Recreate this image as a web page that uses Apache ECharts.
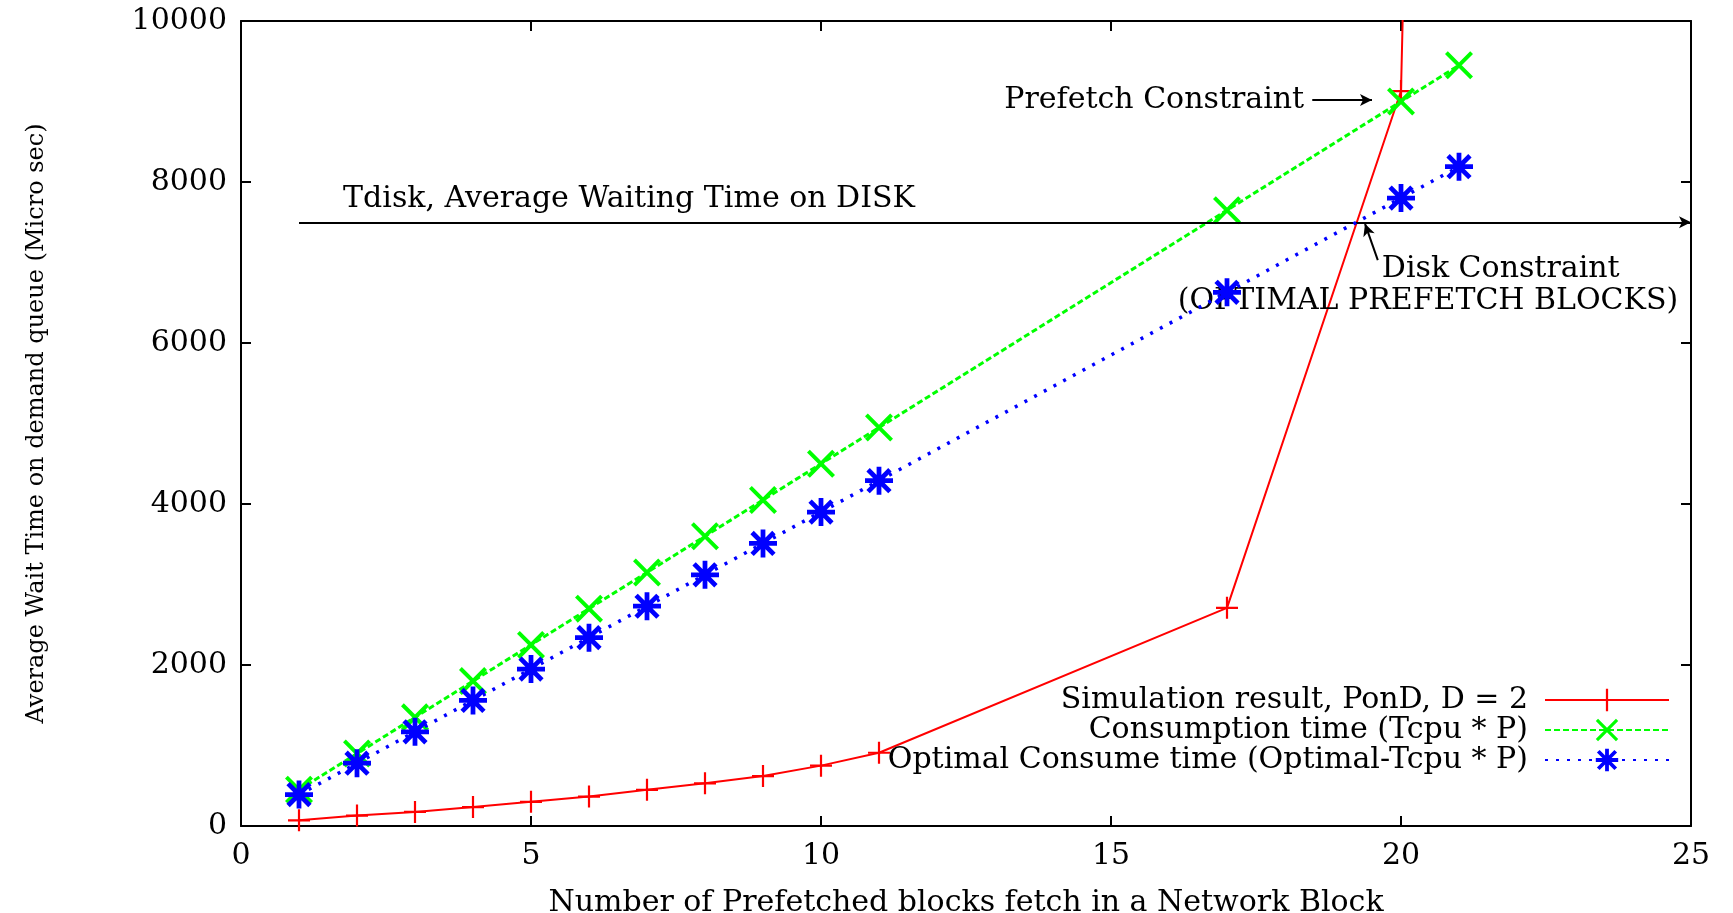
<!DOCTYPE html>
<html>
<head>
<meta charset="utf-8">
<script src="https://cdn.jsdelivr.net/npm/echarts@6/dist/echarts.min.js"></script>
<style>
html, body { margin: 0; padding: 0; background: #fff; }
#main { width: 1733px; height: 913px; }
</style>
</head>
<body>
<div id="main"></div>
<script>
// prefetched blocks per network block
var blocks = [1, 2, 3, 4, 5, 6, 7, 8, 9, 10, 11, 17, 20, 21];
// simulation result, PonD, D = 2 (last point runs off the top)
var simulation = [70, 130, 175, 235, 300, 365, 450, 530, 620, 750, 910, 2710, 9130, 40000];
// consumption time (Tcpu * P)
var consumption = [450, 900, 1350, 1800, 2250, 2700, 3150, 3600, 4050, 4500, 4950, 7650, 9000, 9450];
// optimal consume time (Optimal-Tcpu * P)
var optimal = [390, 780, 1170, 1560, 1950, 2340, 2730, 3120, 3510, 3900, 4290, 6630, 7800, 8190];

var seriesNames = [
    'Simulation result, PonD, D = 2',
    'Consumption time (Tcpu * P)',
    'Optimal Consume time (Optimal-Tcpu * P)'
];

var tdisk = 7500;
var xTicks = [0, 25, 5];      // min, max, step
var yTicks = [0, 10000, 2000];

// labels placed in data coordinates
var notes = [
    { text: 'Tdisk, Average Waiting Time on DISK', x: 1.76, y: 7790, align: 'left' },
    { text: 'Prefetch Constraint', x: 18.33, y: 9010, align: 'right' },
    { text: 'Disk Constraint', x: 19.67, y: 6920, align: 'left' },
    { text: '(OPTIMAL PREFETCH BLOCKS)', x: 24.78, y: 6520, align: 'right' }
];
// arrows [from, to]
var arrows = [
    [[1, tdisk], [25, tdisk]],
    [[18.47, 9020], [19.5, 9020]],
    [[19.6, 7030], [19.38, 7480]]
];

var FONT = 'DejaVu Serif';
var FS = 30;

function pairs(ys) {
    return blocks.map(function (b, i) { return [b, ys[i]]; });
}

var plusSym = 'path://M9,0H11V20H9ZM0,9H20V11H0Z';
var crossSym = 'path://M0,2L2,0L20,18L18,20ZM18,0L20,2L2,20L0,18Z';
var starSym = 'path://M8.3,0H11.7V20H8.3ZM0,8.3H20V11.7H0ZM1,3.4L3.4,1L19,16.6L16.6,19ZM16.6,1L19,3.4L3.4,19L1,16.6Z';

var axisCommon = {
    type: 'value',
    splitLine: { show: false },
    axisLine: { show: true, onZero: false, lineStyle: { color: '#000', width: 2 } },
    axisTick: { show: true, inside: true, length: 10, lineStyle: { color: '#000', width: 2 } }
};

var myChart = echarts.init(document.getElementById('main'));

var option = {
    animation: false,
    backgroundColor: '#fff',
    grid: { left: 241, right: 42, top: 21, bottom: 87, containLabel: false, outerBoundsMode: 'none' },
    legend: {
        data: seriesNames,
        orient: 'vertical',
        right: 58,
        top: 680,
        align: 'right',
        itemWidth: 124,
        itemHeight: 28,
        itemGap: 0,
        textStyle: { fontFamily: FONT, fontSize: FS, lineHeight: 28, color: '#000', padding: [0, 12, 0, 0] }
    },
    xAxis: [
        Object.assign({}, axisCommon, {
            position: 'bottom',
            min: xTicks[0], max: xTicks[1], interval: xTicks[2],
            name: 'Number of Prefetched blocks fetch in a Network Block',
            nameLocation: 'middle',
            nameGap: 62,
            nameTextStyle: { fontFamily: FONT, fontSize: FS, color: '#000' },
            axisLabel: { fontFamily: FONT, fontSize: FS, color: '#000', margin: 15 }
        }),
        Object.assign({}, axisCommon, {
            position: 'top',
            min: xTicks[0], max: xTicks[1], interval: xTicks[2],
            axisLabel: { show: false }
        })
    ],
    yAxis: [
        Object.assign({}, axisCommon, {
            position: 'left',
            min: yTicks[0], max: yTicks[1], interval: yTicks[2],
            name: 'Average Wait Time on demand queue (Micro sec)',
            nameLocation: 'middle',
            nameGap: 192,
            nameTextStyle: { fontFamily: FONT, fontSize: 24, color: '#000' },
            axisLabel: {
                fontFamily: FONT, fontSize: FS, color: '#000', margin: 14,
                formatter: function (v) { return String(v); }
            }
        }),
        Object.assign({}, axisCommon, {
            position: 'right',
            min: yTicks[0], max: yTicks[1], interval: yTicks[2],
            axisLabel: { show: false }
        })
    ],
    series: [
        {
            name: seriesNames[0],
            type: 'line',
            data: pairs(simulation),
            clip: true,
            symbol: plusSym,
            symbolSize: 22,
            itemStyle: { color: '#ff0000' },
            lineStyle: { color: '#ff0000', width: 2 },
            z: 3
        },
        {
            name: seriesNames[1],
            type: 'line',
            data: pairs(consumption),
            clip: true,
            symbol: crossSym,
            symbolSize: 28,
            itemStyle: { color: '#00ff00' },
            lineStyle: { color: '#00ff00', width: 3, type: [6, 3] },
            z: 4
        },
        {
            name: seriesNames[2],
            type: 'line',
            data: pairs(optimal),
            clip: true,
            symbol: starSym,
            symbolSize: 28,
            itemStyle: { color: '#0000ff' },
            lineStyle: { color: '#0000ff', width: 3.5, type: [3, 8] },
            z: 5
        },
        {
            name: 'notes',
            type: 'line',
            data: [],
            silent: true,
            markLine: {
                silent: true,
                animation: false,
                symbol: ['none', 'arrow'],
                symbolSize: [9, 12],
                label: { show: false },
                lineStyle: { color: '#000', width: 2, type: 'solid' },
                data: arrows.map(function (a) {
                    return [{ coord: a[0] }, { coord: a[1] }];
                })
            },
            markPoint: {
                silent: true,
                animation: false,
                symbol: 'circle',
                symbolSize: 0,
                data: notes.map(function (n) {
                    return {
                        name: n.text,
                        coord: [n.x, n.y],
                        label: {
                            show: true,
                            position: 'inside',
                            formatter: '{b}',
                            align: n.align,
                            verticalAlign: 'middle',
                            fontFamily: FONT,
                            fontSize: FS,
                            color: '#000'
                        }
                    };
                })
            }
        }
    ]
};

myChart.setOption(option);
</script>
</body>
</html>
